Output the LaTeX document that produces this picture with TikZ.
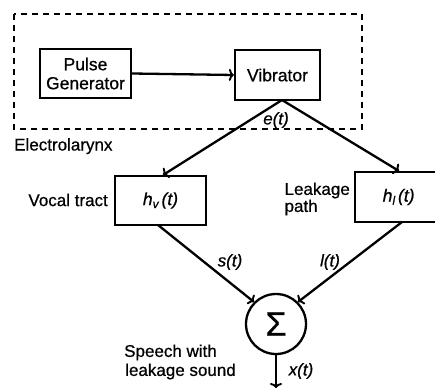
\documentclass[tikz,border=0pt]{standalone}
\usepackage{fontspec}
\setmainfont{Liberation Sans}[FakeBold=0.7]
\usetikzlibrary{arrows.meta}
\begin{document}
\begin{tikzpicture}[x=1pt,y=-1pt,
  blk/.style={draw,line width=2.3pt,minimum width=#1,minimum height=49pt,inner sep=0pt,align=center,font=\fontsize{17.5}{19}\selectfont},
  lbl/.style={font=\fontsize{17}{19}\selectfont,inner sep=0pt,align=left},
  ilbl/.style={font=\fontsize{17}{19}\selectfont\itshape,inner sep=0pt},
  arr/.style={line width=2.3pt,-{To[length=5pt,width=12pt,line width=1.9pt]}}]
\useasboundingbox (0,0) rectangle (435,387);
\draw[line width=2.6pt,dash pattern=on 6pt off 5pt] (14,14) rectangle (362,129);
\node[blk=91pt] (pg) at (85.5,73.5) {Pulse\\Generator};
\node[blk=85pt,minimum height=50pt] (vib) at (277.5,75) {Vibrator};
\node[blk=91pt] (hv) at (160.5,200.5) {\itshape h\raisebox{-3pt}{\fontsize{12}{12}\selectfont v}\,(t)};
\node[blk=95pt,minimum height=50pt,anchor=west] (hl) at (354,197) {\hspace*{-8pt}\itshape h\raisebox{-3pt}{\fontsize{12}{12}\selectfont l}\,(t)};
\node[draw,circle,line width=2.3pt,minimum size=60pt,inner sep=0pt,font=\fontsize{34}{34}\selectfont] (sum) at (276,324) {\raisebox{-1pt}{Σ}};
\node[lbl,anchor=north west] (el) at (14,138) {Electrolarynx};
\node[lbl,anchor=east] (vt) at (108,200) {Vocal tract};
\node[lbl,anchor=east,align=left,font=\fontsize{17}{17}\selectfont] (lp) at (350,199) {Leakage\\path};
\node[lbl,anchor=center,align=left] (sp) at (180,362) {Speech with\\\hspace*{1pt}leakage sound};
\node[ilbl] (et) at (276,120) {e(t)};
\node[ilbl] (st) at (230,262) {s(t)};
\node[ilbl] (lt) at (330,262) {l(t)};
\node[ilbl] (xt) at (301,371) {x(t)};
\coordinate (vb) at (282,100);
\coordinate (out) at (276,388);
\draw[arr] (pg.east) -- (vib.west);
\draw[arr] (vb) -- (163,175);
\draw[arr] (vb) -- (399,171);
\draw[arr] (158,225) -- (sum.north west) ;
\draw[arr] (402,222) -- (sum.north east);
\draw[arr] (sum.south) -- (out);
\end{tikzpicture}
\end{document}
